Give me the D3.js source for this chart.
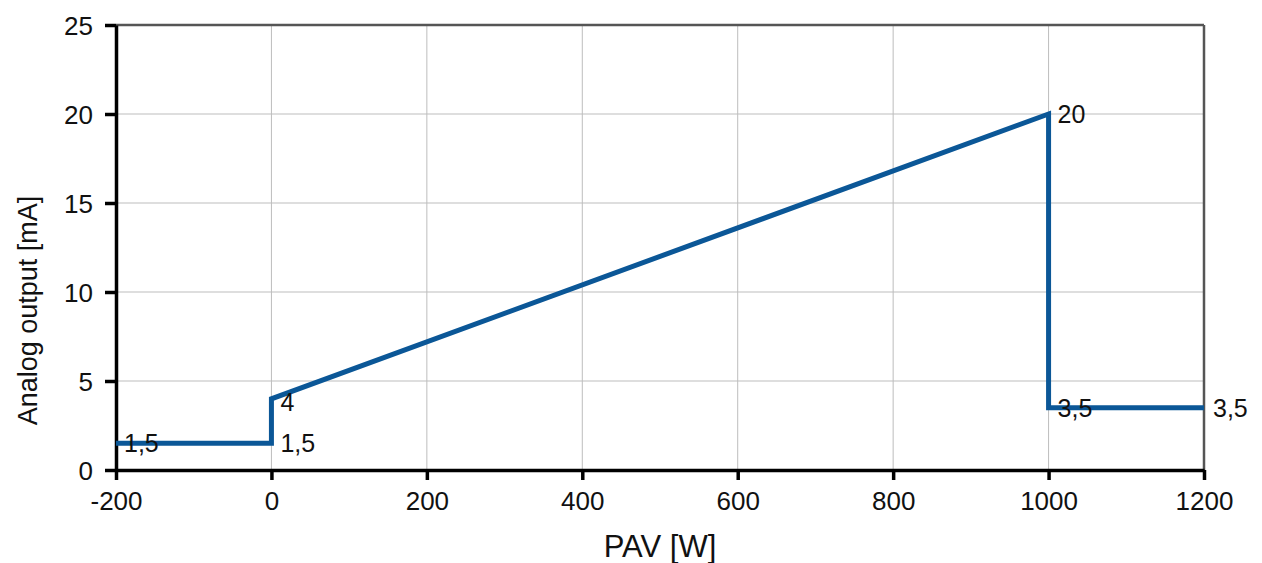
<!DOCTYPE html>
<html>
<head>
<meta charset="utf-8">
<script src="https://cdn.jsdelivr.net/npm/d3@7"></script>
<style>
  body { margin: 0; background: #fff; }
  text { font-family: "Liberation Sans", Arial, sans-serif; fill: #111; }
</style>
</head>
<body>
<div id="chart"></div>
<script>
// data
const pavValues = [-200, 0, 0, 1000, 1000, 1200];
const outputValues = [1.5, 1.5, 4, 20, 3.5, 3.5];
const pointLabels = ["1,5", "1,5", "4", "20", "3,5", "3,5"];
const xTicks = [-200, 0, 200, 400, 600, 800, 1000, 1200];
const yTicks = [0, 5, 10, 15, 20, 25];

const width = 1262, height = 563;
const margin = { top: 25, right: 58, bottom: 93, left: 116 };

const svg = d3.select("#chart")
    .append("svg")
    .attr("width", width)
    .attr("height", height);

const x = d3.scaleLinear().domain([-200, 1200]).range([margin.left, width - margin.right]);
const y = d3.scaleLinear().domain([0, 25]).range([height - margin.bottom, margin.top]);

// grid
svg.append("g")
    .selectAll("line")
    .data(xTicks)
    .join("line")
    .attr("x1", d => x(d)).attr("x2", d => x(d))
    .attr("y1", y(0)).attr("y2", y(25))
    .attr("stroke", "#bdbdbd")
    .attr("stroke-width", 1);

svg.append("g")
    .selectAll("line")
    .data(yTicks)
    .join("line")
    .attr("x1", x(-200)).attr("x2", x(1200))
    .attr("y1", d => y(d)).attr("y2", d => y(d))
    .attr("stroke", "#bdbdbd")
    .attr("stroke-width", 1);

// top and right border
svg.append("line")
    .attr("x1", x(-200)).attr("x2", x(1200))
    .attr("y1", y(25)).attr("y2", y(25))
    .attr("stroke", "#555").attr("stroke-width", 2.5);
svg.append("line")
    .attr("x1", x(1200)).attr("x2", x(1200))
    .attr("y1", y(25)).attr("y2", y(0))
    .attr("stroke", "#555").attr("stroke-width", 2.5);

// axes
const fmt = d => String(d);
const xAxis = svg.append("g")
    .attr("transform", `translate(0,${y(0)})`)
    .call(d3.axisBottom(x).tickValues(xTicks).tickFormat(fmt).tickSize(10).tickPadding(12).tickSizeOuter(0));
const yAxis = svg.append("g")
    .attr("transform", `translate(${x(-200)},0)`)
    .call(d3.axisLeft(y).tickValues(yTicks).tickFormat(fmt).tickSize(11).tickPadding(12).tickSizeOuter(0));

[xAxis, yAxis].forEach(a => {
    a.attr("font-size", null).attr("font-family", null);
    a.select(".domain").attr("stroke", "#000").attr("stroke-width", 3.5);
    a.selectAll(".tick line").attr("stroke", "#000").attr("stroke-width", 3.5);
    a.selectAll(".tick text")
        .style("font-size", "26px")
        .attr("fill", "#111");
});
yAxis.selectAll(".tick text").attr("dy", "0.35em");

// line
const line = d3.line()
    .x((d, i) => x(pavValues[i]))
    .y((d, i) => y(outputValues[i]));

svg.append("path")
    .datum(outputValues)
    .attr("d", line)
    .attr("fill", "none")
    .attr("stroke", "#0b5797")
    .attr("stroke-width", 5)
    .attr("stroke-linejoin", "miter");

// point labels
svg.append("g")
    .selectAll("text")
    .data(pointLabels)
    .join("text")
    .attr("x", (d, i) => x(pavValues[i]) + (i === 0 ? 8 : 9))
    .attr("y", (d, i) => y(outputValues[i]))
    .attr("dy", (d, i) => i === 2 ? "0.5em" : "0.36em")
    .style("font-size", "25px")
    .text(d => d);

// axis titles
svg.append("text")
    .attr("x", (x(-200) + x(1200)) / 2)
    .attr("y", 557)
    .attr("text-anchor", "middle")
    .style("font-size", "31px")
    .text("PAV [W]");

svg.append("text")
    .attr("transform", `translate(37, ${(y(0) + y(25)) / 2 + 63}) rotate(-90)`)
    .attr("text-anchor", "middle")
    .style("font-size", "27px")
    .text("Analog output [mA]");
</script>
</body>
</html>
